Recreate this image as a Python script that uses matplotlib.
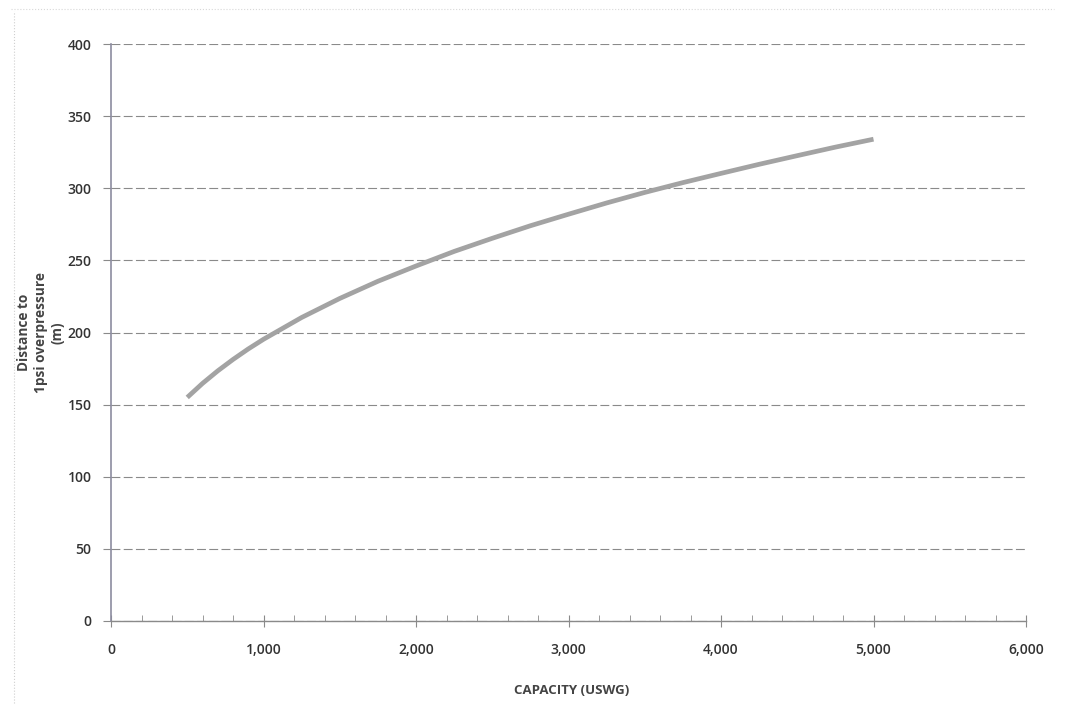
import matplotlib.pyplot as plt
from matplotlib.ticker import FuncFormatter, MultipleLocator

# values
capacity = [500, 600, 700, 800, 900, 1000, 1250, 1500, 1750, 2000, 2250, 2500,
            2750, 3000, 3250, 3500, 3750, 4000, 4250, 4500, 4750, 5000]
distance = [155, 164.7, 173.4, 181.3, 188.6, 195.3, 210.4, 223.6, 235.5, 246.1, 256.2, 265.3,
            274, 282, 289.8, 297.1, 303.9, 310.3, 316.6, 322.6, 328.5, 334]

plt.rcParams['font.family'] = ['Open Sans', 'DejaVu Sans']

fig = plt.figure(figsize=(10.65, 7.17), dpi=100)
ax = fig.add_axes([111 / 1065, 1 - 621 / 717, (1026 - 111) / 1065, (621 - 44) / 717])

ax.plot(capacity, distance, color='#a3a3a3', lw=3.4, solid_capstyle='butt',
        solid_joinstyle='round')

ax.set_xlim(0, 6000)
ax.set_ylim(0, 400)
ax.xaxis.set_major_locator(MultipleLocator(1000))
ax.xaxis.set_minor_locator(MultipleLocator(200))
ax.yaxis.set_major_locator(MultipleLocator(50))
ax.xaxis.set_major_formatter(FuncFormatter(lambda v, p: '{:,.0f}'.format(v)))

ax.grid(axis='y', color='#8a8a8a', lw=0.8, ls=(0, (8, 3)))
ax.set_axisbelow(True)
for s in ['top', 'right']:
    ax.spines[s].set_visible(False)
ax.spines['left'].set_color('#8c8ca0')
ax.spines['bottom'].set_color('#8a8a8a')
ax.spines['left'].set_linewidth(1.2)
ax.spines['bottom'].set_linewidth(1.0)

ax.tick_params(axis='x', which='major', direction='inout', length=8, color='#8a8a8a', pad=12,
               labelsize=10, labelcolor='#333333')
ax.tick_params(axis='x', which='minor', direction='in', length=4, color='#8a8a8a')
ax.tick_params(axis='y', direction='out', length=6, color='#8a8a8a', pad=8,
               labelsize=10, labelcolor='#333333')
for lab in ax.get_xticklabels() + ax.get_yticklabels():
    lab.set_fontweight('semibold')

ax.set_xlabel('CAPACITY (USWG)', fontsize=9.5, fontweight='bold', color='#444444')
ax.xaxis.set_label_coords(0.503, -0.109)
ax.set_ylabel('Distance to\n1psi overpressure\n(m)', fontsize=9.8, fontweight='bold',
              color='#444444', linespacing=1.25)
ax.yaxis.set_label_coords(-0.051, 0.50)

# faint border of the scanned chart area
fig.add_artist(plt.Line2D([14 / 1065, 14 / 1065], [0.02, 0.985], color='#cfcfcf', lw=0.8, ls=':'))
fig.add_artist(plt.Line2D([0.01, 0.99], [0.988, 0.988], color='#d8d8d8', lw=0.8, ls=':'))

fig.savefig('out.png', dpi=100)
